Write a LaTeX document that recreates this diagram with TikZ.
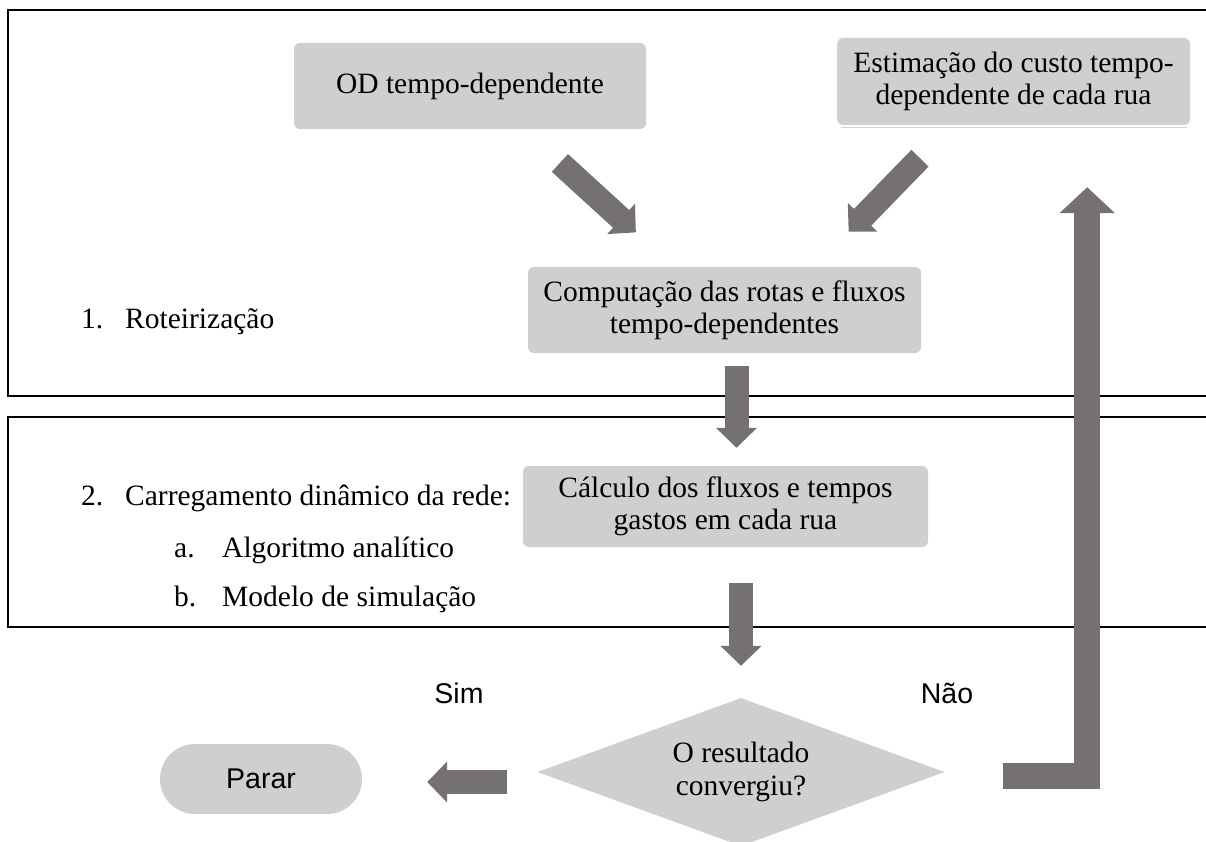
\documentclass[tikz,border=0pt]{standalone}
\usepackage{fontspec}
\setmainfont{Liberation Serif}
\newfontfamily\arialfont{Liberation Sans}
\usetikzlibrary{arrows.meta,shapes.geometric,calc}
\definecolor{boxgray}{HTML}{D0CECE}
\definecolor{arrowgray}{HTML}{767171}
\definecolor{edgeblue}{HTML}{BDD7EE}

\begin{document}
\begin{tikzpicture}[x=1pt, y=-1pt,
    box/.style={fill=boxgray, rounded corners=6pt, align=center, inner sep=0pt,
                font=\fontsize{29.5}{32}\selectfont},
    decis/.style={diamond, fill=boxgray, aspect=2.75, inner sep=0pt, align=center,
                  minimum width=407pt, minimum height=148pt, font=\fontsize{29.5}{33}\selectfont},
    stopbox/.style={fill=boxgray, rounded corners=35pt, inner sep=0pt,
                    minimum width=202pt, minimum height=70pt, font=\arialfont\fontsize{28.5}{32}\selectfont},
    lbl/.style={anchor=base west, inner sep=0pt, font=\fontsize{29.5}{32}\selectfont},
    slbl/.style={anchor=base, inner sep=0pt, font=\arialfont\fontsize{28.5}{32}\selectfont},
    frame/.style={draw=black, line width=2pt},
    barr/.style={draw=arrowgray, line width=24pt, -{Triangle[length=20pt,width=40pt]}}]
  \useasboundingbox (0,0) rectangle (1206,842);
  % the two stages
  \draw[frame] (1206,10) -- (8,10) -- (8,396) -- (1206,396);
  \draw[frame] (1206,417) -- (8,417) -- (8,627) -- (1206,627);
  % boxes
  \node[box, minimum width=352pt, minimum height=86pt] (od) at (470,86) {OD tempo-dependente};
  \node[box, minimum width=353pt, minimum height=87pt] (est) at (1013.5,81.5) {Estimação do custo tempo-\\dependente de cada rua};
  \draw[edgeblue, line width=1.2pt] ([xshift=4pt,yshift=-2pt]est.south west) -- ([xshift=-3pt,yshift=-2pt]est.south east);
  \node[box, minimum width=393pt, minimum height=86pt] (comp) at (724.5,310) {Computação das rotas e fluxos\\tempo-dependentes};
  \node[box, minimum width=405pt, minimum height=81pt] (calc) at (725.5,506.5) {Cálculo dos fluxos e tempos\\gastos em cada rua};
  \node[decis] (dec) at (741,772) {O resultado\\convergiu?};
  \node[stopbox] (parar) at (261,779) {Parar};
  % labels
  \node[lbl] (n1) at (81,328) {1.};
  \node[lbl] (t1) at (125,328) {Roteirização};
  \node[lbl] (n2) at (81,505) {2.};
  \node[lbl] (t2) at (125,505) {Carregamento dinâmico da rede:};
  \node[lbl] (na) at (174,557) {a.};
  \node[lbl] (ta) at (222,557) {Algoritmo analítico};
  \node[lbl] (nb) at (174,606) {b.};
  \node[lbl] (tb) at (222,606) {Modelo de simulação};
  \node[slbl] (sim) at (459,703) {Sim};
  \node[slbl] (nao) at (947,703) {Não};
  % block arrows
  \draw[barr, shorten <=50pt, shorten >=51pt] ([xshift=53pt]od.south) -- ([xshift=-51pt]comp.north);
  \draw[barr, shorten <=46pt, shorten >=49pt] ([xshift=-61.5pt]est.south) -- ([xshift=90pt]comp.north);
  \draw[barr, shorten <=13pt, shorten >=18pt] ([xshift=12pt]comp.south) -- ([xshift=12pt]comp.south |- calc.north);
  \draw[barr, shorten <=36pt, shorten >=32pt] (dec.north |- calc.south) -- (dec.north);
  \draw[barr, shorten <=30pt, shorten >=65pt] ([yshift=-3pt]parar.east -| dec.west) -- ([yshift=-3pt]parar.east);
  \coordinate (turn) at ([xshift=142.5pt,yshift=-4pt]dec.east);
  \draw[barr, line width=26.5pt, -{Triangle[length=26pt,width=54pt]}, shorten <=0pt, shorten >=62pt]
    ([xshift=58pt]turn -| dec.east) -- (turn) -- (turn |- est.south);
\end{tikzpicture}
\end{document}
